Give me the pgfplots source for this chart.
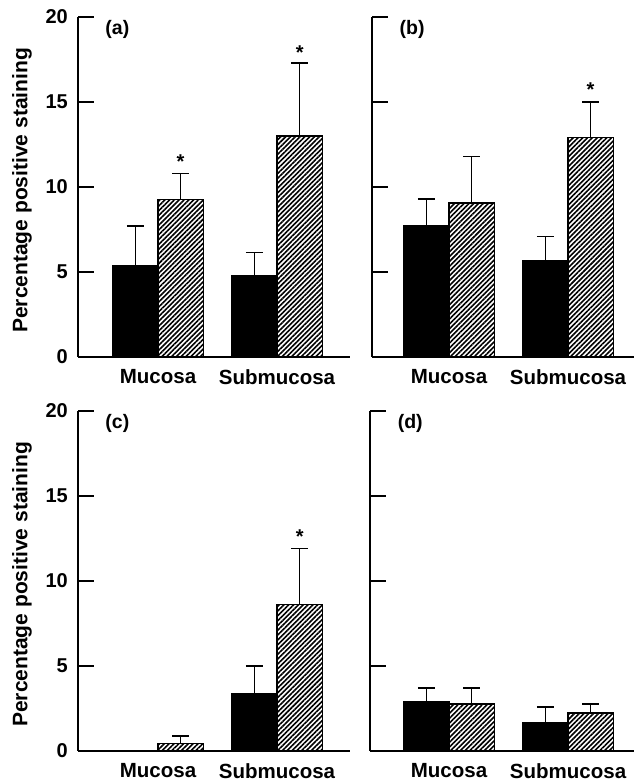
\documentclass[border=0pt]{standalone}
\usepackage{fontspec}
\setmainfont{Liberation Sans}
\usepackage{pgfplots}
\usepackage{pgfplotstable}
\pgfplotsset{compat=1.18}
\usetikzlibrary{patterns.meta}

\pgfplotstableread{
x y e
0.81 5.4 2.3
1.81 4.8 1.35
}\Ablack
\pgfplotstableread{
x y e
1.19 9.25 1.55
2.19 13.0 4.3
}\Ahatch
\pgfplotstableread{
x y e
0.81 7.75 1.55
1.81 5.7 1.38
}\Bblack
\pgfplotstableread{
x y e
1.19 9.05 2.75
2.19 12.9 2.1
}\Bhatch
\pgfplotstableread{
x y e
0.81 0 0
1.81 3.4 1.6
}\Cblack
\pgfplotstableread{
x y e
1.19 0.45 0.42
2.19 8.6 3.3
}\Chatch
\pgfplotstableread{
x y e
0.81 2.9 0.8
1.81 1.65 0.95
}\Dblack
\pgfplotstableread{
x y e
1.19 2.76 0.94
2.19 2.24 0.52
}\Dhatch

\tikzset{
  plab/.style={anchor=west, font=\fontsize{19.5}{19.5}\selectfont\bfseries},
  star/.style={anchor=base, font=\fontsize{20}{20}\selectfont\bfseries},
}

\pgfplotsset{
  panel/.style={
    scale only axis, height=340pt,
    axis lines*=left, ymin=0, ymax=20, ytick={0,5,10,15,20},
    tick align=inside, major tick length=16pt,
    xtick={1,2}, xticklabels={Mucosa,Submucosa},
    x tick style={draw=none},
    y tick style={line width=1.5pt, black},
    axis line style={line width=1.5pt, black},
    /pgf/number format/assume math mode=true,
    yticklabel style={font=\fontsize{20}{20}\selectfont\bfseries, anchor=east, inner sep=0pt, xshift=-10pt},
    xticklabel style={font=\fontsize{20.5}{20.5}\selectfont\bfseries, anchor=north, inner sep=0pt, yshift=-12.5pt},
    clip=false,
  },
  ylab/.style={
    ylabel={Percentage positive staining},
    ylabel style={font=\fontsize{21}{21}\selectfont\bfseries, at={(axis description cs:-0.206,0.49)}, anchor=center},
  },
  noylab/.style={yticklabels={}},
  blackbar/.style={ybar, bar width=0.38, bar shift=0pt, fill=black, draw=black, line width=1pt,
    error bars/.cd, y dir=plus, y explicit,
    error bar style={line width=1.5pt, black},
    error mark options={rotate=90, line width=1.5pt, mark size=8.5pt, black}},
  hatchbar/.style={ybar, bar width=0.38, bar shift=0pt, pattern={Lines[angle=45, distance=3.4pt, line width=1.6pt]}, draw=black, line width=1.3pt,
    error bars/.cd, y dir=plus, y explicit,
    error bar style={line width=1.5pt, black},
    error mark options={rotate=90, line width=1.5pt, mark size=8.5pt, black}},
}

\begin{document}
\begin{tikzpicture}
\useasboundingbox (0,0) rectangle (634pt,783pt);

% (a)
\begin{axis}[panel, ylab, at={(78pt,426pt)}, anchor=south west, width=272pt, xmin=0.328, xmax=2.613]
\addplot[blackbar] table[x=x, y=y, y error=e] {\Ablack};
\addplot[hatchbar] table[x=x, y=y, y error=e] {\Ahatch};
\node[plab] at (rel axis cs:0.088,0.962) {(a)};
\node[star] at (axis cs:1.19,11.1) {*};
\node[star] at (axis cs:2.19,17.5) {*};
\end{axis}

% (b)
\begin{axis}[panel, noylab, at={(372pt,426pt)}, anchor=south west, width=262pt, xmin=0.353, xmax=2.555]
\addplot[blackbar] table[x=x, y=y, y error=e] {\Bblack};
\addplot[hatchbar] table[x=x, y=y, y error=e] {\Bhatch};
\node[plab] at (rel axis cs:0.092,0.962) {(b)};
\node[star] at (axis cs:2.19,15.3) {*};
\end{axis}

% (c)
\begin{axis}[panel, ylab, at={(78pt,32pt)}, anchor=south west, width=272pt, xmin=0.328, xmax=2.613]
\addplot[blackbar] table[x=x, y=y, y error=e] {\Cblack};
\addplot[hatchbar] table[x=x, y=y, y error=e] {\Chatch};
\node[plab] at (rel axis cs:0.088,0.962) {(c)};
\node[star] at (axis cs:2.19,12.2) {*};
\end{axis}

% (d)
\begin{axis}[panel, noylab, at={(370pt,32pt)}, anchor=south west, width=264pt, xmin=0.336, xmax=2.554]
\addplot[blackbar] table[x=x, y=y, y error=e] {\Dblack};
\addplot[hatchbar] table[x=x, y=y, y error=e] {\Dhatch};
\node[plab] at (rel axis cs:0.092,0.962) {(d)};
\end{axis}
\end{tikzpicture}
\end{document}
